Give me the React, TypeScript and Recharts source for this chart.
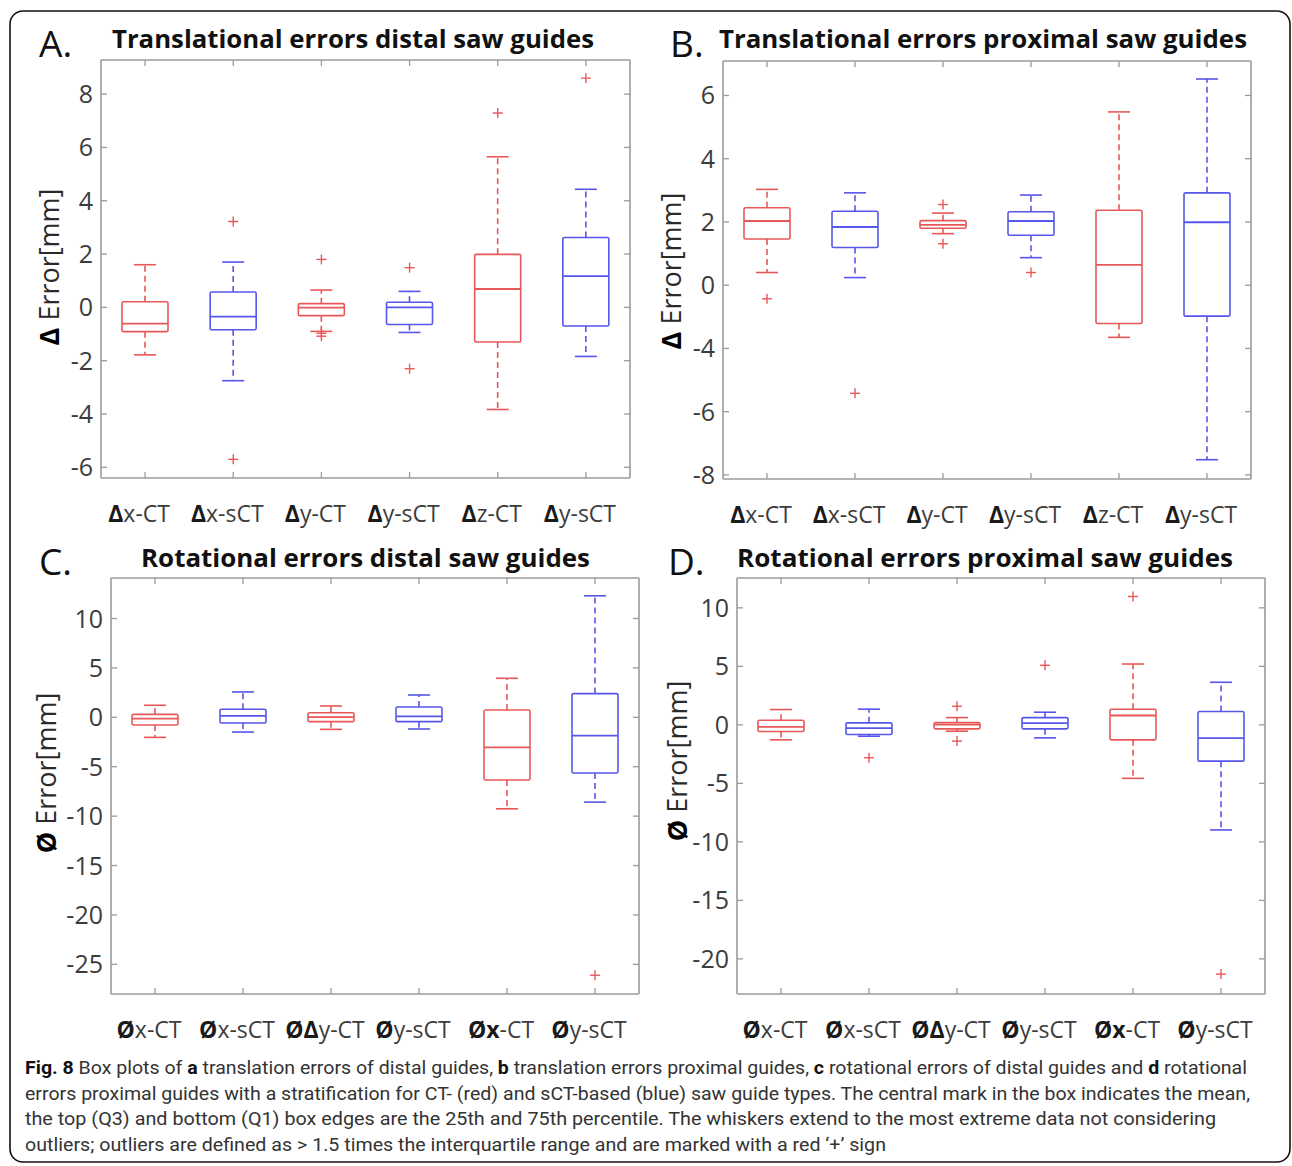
import React from "react";
import { ComposedChart, Bar, Line, XAxis, YAxis } from "recharts";

// ---- shared ----
const KEYS = ["c1", "c2", "c3", "c4", "c5", "c6"];
const GROUP_COLORS = ["#e85858", "#5656ea", "#e85858", "#5656ea", "#e85858", "#5656ea"];
const OUTLIER_COLOR = "#e85858";
const AXIS_COLOR = "#9b9b9b";
const TICK_TEXT = "#3c3c3c";
const BOX_W = 46;
const CAP_W = 22;

const TRANS_LABELS = ["Δx-CT", "Δx-sCT", "Δy-CT", "Δy-sCT", "Δz-CT", "Δy-sCT"];
const TRANS_BOLD = [1, 1, 1, 1, 1, 1];
const ROT_LABELS = ["Øx-CT", "Øx-sCT", "ØΔy-CT", "Øy-sCT", "Øx-CT", "Øy-sCT"];
const ROT_BOLD = [1, 1, 2, 1, 2, 1];

// ---- A: translational errors distal ----
const A_LO = [-1.78, -2.75, -0.9, -0.94, -3.83, -1.84];
const A_Q1 = [-0.91, -0.84, -0.31, -0.64, -1.3, -0.7];
const A_MED = [-0.61, -0.35, -0.01, 0.0, 0.69, 1.17];
const A_Q3 = [0.21, 0.58, 0.14, 0.19, 1.99, 2.62];
const A_HI = [1.6, 1.7, 0.65, 0.6, 5.65, 4.43];
const A_OUT = [[], [3.22, -5.7], [1.8, -0.97, -1.08], [1.49, -2.3], [7.29], [8.6]];
const A_TICKS = [-6, -4, -2, 0, 2, 4, 6, 8];
const A_TICK_LABELS = ["-6", "-4", "-2", "0", "2", "4", "6", "8"];

// ---- B: translational errors proximal ----
const B_LO = [0.4, 0.24, 1.63, 0.87, -1.65, -5.52];
const B_Q1 = [1.46, 1.19, 1.8, 1.58, -1.21, -0.98];
const B_MED = [2.03, 1.84, 1.91, 2.03, 0.64, 1.99];
const B_Q3 = [2.45, 2.34, 2.04, 2.32, 2.37, 2.92];
const B_HI = [3.03, 2.92, 2.28, 2.85, 5.48, 6.52];
const B_OUT = [[-0.43], [-3.42], [2.55, 1.31], [0.4], [], []];
const B_TICKS = [-6, -4, -2, 0, 2, 4, 6];
const B_TICK_LABELS = ["-8", "-6", "-4", "0", "2", "4", "6"];

// ---- C: rotational errors distal ----
const C_LO = [-2.03, -1.49, -1.22, -1.18, -9.26, -8.58];
const C_Q1 = [-0.78, -0.57, -0.44, -0.44, -6.35, -5.64];
const C_MED = [-0.14, 0.14, 0.03, 0.1, -3.04, -1.86];
const C_Q3 = [0.3, 0.81, 0.47, 1.05, 0.74, 2.4];
const C_HI = [1.22, 2.57, 1.15, 2.26, 3.95, 12.3];
const C_OUT = [[], [], [], [], [], [-26.1]];
const C_TICKS = [-25, -20, -15, -10, -5, 0, 5, 10];
const C_TICK_LABELS = ["-25", "-20", "-15", "-10", "-5", "0", "5", "10"];

// ---- D: rotational errors proximal ----
const D_LO = [-1.28, -0.97, -0.54, -1.11, -4.57, -8.98];
const D_Q1 = [-0.57, -0.82, -0.34, -0.34, -1.28, -3.1];
const D_MED = [-0.17, -0.28, 0.03, 0.14, 0.8, -1.14];
const D_Q3 = [0.4, 0.17, 0.2, 0.62, 1.34, 1.14];
const D_HI = [1.31, 1.34, 0.62, 1.08, 5.2, 3.64];
const D_OUT = [[], [-2.81], [1.59, -1.39], [5.09], [10.97], [-21.3]];
const D_TICKS = [-20, -15, -10, -5, 0, 5, 10];
const D_TICK_LABELS = ["-20", "-15", "-10", "-5", "0", "5", "10"];

const CAPTION = [
  [["Fig. 8", true], [" Box plots of ", false], ["a", true], [" translation errors of distal guides, ", false], ["b", true], [" translation errors proximal guides, ", false], ["c", true], [" rotational errors of distal guides and ", false], ["d", true], [" rotational", false]],
  [["errors proximal guides with a stratification for CT- (red) and sCT-based (blue) saw guide types. The central mark in the box indicates the mean,", false]],
  [["the top (Q3) and bottom (Q1) box edges are the 25th and 75th percentile. The whiskers extend to the most extreme data not considering", false]],
  [["outliers; outliers are defined as > 1.5 times the interquartile range and are marked with a red ‘+’ sign", false]],
] as [string, boolean][][];
const CAPTION_WIDTHS = [1222, 1225, 1191, 861];

function buildRows(lo: number[], q1: number[], med: number[], q3: number[], hi: number[], out: number[][]) {
  return KEYS.map((key, i) => ({
    key,
    lo: lo[i],
    q1: q1[i],
    med: med[i],
    q3: q3[i],
    hi: hi[i],
    o1: out[i][0] ?? null,
    o2: out[i][1] ?? null,
    o3: out[i][2] ?? null,
    color: GROUP_COLORS[i],
  }));
}

const span = (y: number, h: number) => [Math.min(y, y + h), Math.max(y, y + h)];

const LowerWhisker = (props: any) => {
  const { x, y, width, height, payload } = props;
  const cx = x + width / 2;
  const [top, bottom] = span(y, height);
  return (
    <g stroke={payload.color} strokeWidth={1.6} fill="none">
      <line x1={cx} x2={cx} y1={top} y2={bottom} strokeDasharray="6 4" />
      <line x1={cx - CAP_W / 2} x2={cx + CAP_W / 2} y1={bottom} y2={bottom} />
    </g>
  );
};

const UpperWhisker = (props: any) => {
  const { x, y, width, height, payload } = props;
  const cx = x + width / 2;
  const [top, bottom] = span(y, height);
  return (
    <g stroke={payload.color} strokeWidth={1.6} fill="none">
      <line x1={cx} x2={cx} y1={bottom} y2={top} strokeDasharray="6 4" />
      <line x1={cx - CAP_W / 2} x2={cx + CAP_W / 2} y1={top} y2={top} />
    </g>
  );
};

const BoxShape = (props: any) => {
  const { x, y, width, height, payload } = props;
  const [top, bottom] = span(y, height);
  return <rect x={x} y={top} width={width} height={bottom - top} rx={1.5} fill="none" stroke={payload.color} strokeWidth={1.6} />;
};

const medianDot = (props: any) => {
  const { cx, cy, payload, index } = props;
  if (cy == null || cx == null) return <g key={`m${index}`} />;
  return <line key={`m${index}`} x1={cx - BOX_W / 2} x2={cx + BOX_W / 2} y1={cy} y2={cy} stroke={payload.color} strokeWidth={1.8} />;
};

const plusDot = (props: any) => {
  const { cx, cy, value, index, dataKey } = props;
  if (value == null || cy == null || cx == null) return <g key={`${dataKey}${index}`} />;
  return (
    <g key={`${dataKey}${index}`} stroke={OUTLIER_COLOR} strokeWidth={1.4}>
      <line x1={cx - 5} x2={cx + 5} y1={cy} y2={cy} />
      <line x1={cx} x2={cx} y1={cy - 5} y2={cy + 5} />
    </g>
  );
};

function BottomTick(props: any) {
  const { x, y, payload, labels, bold } = props;
  const i = KEYS.indexOf(payload.value);
  const label = labels[i] ?? "";
  const b = bold[i] ?? 0;
  return (
    <g>
      <line x1={x} x2={x} y1={y} y2={y - 6} stroke={AXIS_COLOR} strokeWidth={1.3} />
      <text x={x - 6} y={y + 44} textAnchor="middle" fontSize={23} fill={TICK_TEXT}>
        <tspan fontWeight={700} fill="#1a1a1a">{label.slice(0, b)}</tspan>
        <tspan>{label.slice(b)}</tspan>
      </text>
    </g>
  );
}

function TopTick(props: any) {
  const { x, y } = props;
  return <line x1={x} x2={x} y1={y} y2={y + 6} stroke={AXIS_COLOR} strokeWidth={1.3} />;
}

function LeftTick(props: any) {
  const { x, y, payload, ticks, tickLabels } = props;
  const i = ticks.indexOf(payload.value);
  return (
    <g>
      <line x1={x} x2={x + 6} y1={y} y2={y} stroke={AXIS_COLOR} strokeWidth={1.3} />
      <text x={x - 8} y={y + 9} textAnchor="end" fontSize={25} fill={TICK_TEXT}>
        {tickLabels[i] ?? String(payload.value)}
      </text>
    </g>
  );
}

function RightTick(props: any) {
  const { x, y } = props;
  return <line x1={x} x2={x - 6} y1={y} y2={y} stroke={AXIS_COLOR} strokeWidth={1.3} />;
}

type PanelDef = {
  rows: ReturnType<typeof buildRows>;
  labels: string[];
  bold: number[];
  ticks: number[];
  tickLabels: string[];
  domain: [number, number];
  plot: { left: number; top: number; right: number; bottom: number };
};

function BoxPanel({ p }: { p: PanelDef }) {
  const plotW = p.plot.right - p.plot.left;
  const plotH = p.plot.bottom - p.plot.top;
  const axisLine = { stroke: AXIS_COLOR, strokeWidth: 1.6 };
  return (
    <div style={{ position: "absolute", left: p.plot.left - 100, top: p.plot.top - 10 }}>
      <ComposedChart
        width={plotW + 110}
        height={plotH + 70}
        data={p.rows}
        margin={{ top: 0, right: 0, bottom: 0, left: 0 }}
        barSize={BOX_W}
        barGap={-BOX_W}
        style={{ fontFamily: "'Open Sans', sans-serif" }}
      >
        <XAxis
          dataKey="key"
          type="category"
          height={60}
          interval={0}
          tickSize={0}
          tickMargin={0}
          tickLine={false}
          axisLine={axisLine}
          tick={(t: any) => <BottomTick {...t} labels={p.labels} bold={p.bold} />}
        />
        <XAxis
          xAxisId="top"
          dataKey="key"
          type="category"
          orientation="top"
          height={10}
          interval={0}
          tickSize={0}
          tickMargin={0}
          tickLine={false}
          axisLine={axisLine}
          tick={(t: any) => <TopTick {...t} />}
        />
        <YAxis
          type="number"
          width={100}
          domain={p.domain}
          allowDataOverflow
          ticks={p.ticks}
          interval={0}
          tickSize={0}
          tickMargin={0}
          tickLine={false}
          axisLine={axisLine}
          tick={(t: any) => <LeftTick {...t} ticks={p.ticks} tickLabels={p.tickLabels} />}
        />
        <YAxis
          yAxisId="right"
          orientation="right"
          type="number"
          width={10}
          domain={p.domain}
          allowDataOverflow
          ticks={p.ticks}
          interval={0}
          tickSize={0}
          tickMargin={0}
          tickLine={false}
          axisLine={axisLine}
          tick={(t: any) => <RightTick {...t} />}
        />
        <Bar dataKey={(d: any) => [d.lo, d.q1]} shape={LowerWhisker} isAnimationActive={false} />
        <Bar dataKey={(d: any) => [d.q1, d.q3]} shape={BoxShape} isAnimationActive={false} />
        <Bar dataKey={(d: any) => [d.q3, d.hi]} shape={UpperWhisker} isAnimationActive={false} />
        <Line dataKey="med" stroke="none" dot={medianDot} activeDot={false} isAnimationActive={false} />
        <Line dataKey="o1" stroke="none" dot={plusDot} activeDot={false} isAnimationActive={false} />
        <Line dataKey="o2" stroke="none" dot={plusDot} activeDot={false} isAnimationActive={false} />
        <Line dataKey="o3" stroke="none" dot={plusDot} activeDot={false} isAnimationActive={false} />
      </ComposedChart>
    </div>
  );
}

const PANELS: PanelDef[] = [
  {
    rows: buildRows(A_LO, A_Q1, A_MED, A_Q3, A_HI, A_OUT),
    labels: TRANS_LABELS, bold: TRANS_BOLD, ticks: A_TICKS, tickLabels: A_TICK_LABELS,
    domain: [-6.4, 9.28],
    plot: { left: 101, top: 60, right: 630, bottom: 478 },
  },
  {
    rows: buildRows(B_LO, B_Q1, B_MED, B_Q3, B_HI, B_OUT),
    labels: TRANS_LABELS, bold: TRANS_BOLD, ticks: B_TICKS, tickLabels: B_TICK_LABELS,
    domain: [-6.13, 7.09],
    plot: { left: 723, top: 61, right: 1251, bottom: 479 },
  },
  {
    rows: buildRows(C_LO, C_Q1, C_MED, C_Q3, C_HI, C_OUT),
    labels: ROT_LABELS, bold: ROT_BOLD, ticks: C_TICKS, tickLabels: C_TICK_LABELS,
    domain: [-28, 14.1],
    plot: { left: 111, top: 578, right: 639, bottom: 994 },
  },
  {
    rows: buildRows(D_LO, D_Q1, D_MED, D_Q3, D_HI, D_OUT),
    labels: ROT_LABELS, bold: ROT_BOLD, ticks: D_TICKS, tickLabels: D_TICK_LABELS,
    domain: [-23, 12.55],
    plot: { left: 737, top: 578, right: 1265, bottom: 994 },
  },
];

const TITLES = [
  { letter: "A.", lx: 39, ly: 57, text: "Translational errors distal saw guides", tx: 112, tw: 482, ty: 48 },
  { letter: "B.", lx: 670, ly: 57, text: "Translational errors proximal saw guides", tx: 719, tw: 528, ty: 48 },
  { letter: "C.", lx: 39, ly: 575, text: "Rotational errors distal saw guides", tx: 141, tw: 449, ty: 567 },
  { letter: "D.", lx: 668, ly: 575, text: "Rotational errors proximal saw guides", tx: 737, tw: 496, ty: 567 },
];

const Y_LABELS = [
  { sym: "Δ", x: 48, y: 267 },
  { sym: "Δ", x: 670, y: 271 },
  { sym: "Ø", x: 45, y: 773 },
  { sym: "Ø", x: 676, y: 761 },
];

export default function App() {
  return (
    <div style={{ position: "absolute", left: 0, top: 0, width: 1292, height: 1166, background: "#fff", overflow: "hidden" }}>
      {PANELS.map((p, i) => (
        <BoxPanel key={i} p={p} />
      ))}
      <svg width={1292} height={1166} style={{ position: "absolute", left: 0, top: 0, pointerEvents: "none", fontFamily: "'Open Sans', sans-serif" }}>
        <rect x={10} y={11} width={1280} height={1151} rx={13} fill="none" stroke="#111" strokeWidth={1.6} />
        {TITLES.map((t, i) => (
          <g key={i}>
            <text x={t.lx} y={t.ly} fontSize={37} fill="#111">{t.letter}</text>
            <text x={t.tx} y={t.ty} fontSize={25} fontWeight={700} fill="#111" textLength={t.tw} lengthAdjust="spacingAndGlyphs">
              {t.text}
            </text>
          </g>
        ))}
        {Y_LABELS.map((l, i) => (
          <text key={i} transform={`translate(${l.x},${l.y}) rotate(-90)`} textAnchor="middle" dominantBaseline="central" fontSize={27}>
            <tspan fontWeight={700} fill="#000">{l.sym}</tspan>
            <tspan fill="#2a2a2a"> Error[mm]</tspan>
          </text>
        ))}
        {CAPTION.map((line, i) => (
          <text key={i} x={25} y={1074 + i * 25.7} fontSize={19} fill="#333" textLength={CAPTION_WIDTHS[i]} lengthAdjust="spacingAndGlyphs"
            style={{ fontFamily: "'Liberation Sans Narrow', Roboto, sans-serif" }}>
            {line.map(([s, b], j) => (
              <tspan key={j} fontWeight={b ? 700 : 400} fill={b ? "#111" : "#333"}>{s}</tspan>
            ))}
          </text>
        ))}
      </svg>
    </div>
  );
}
